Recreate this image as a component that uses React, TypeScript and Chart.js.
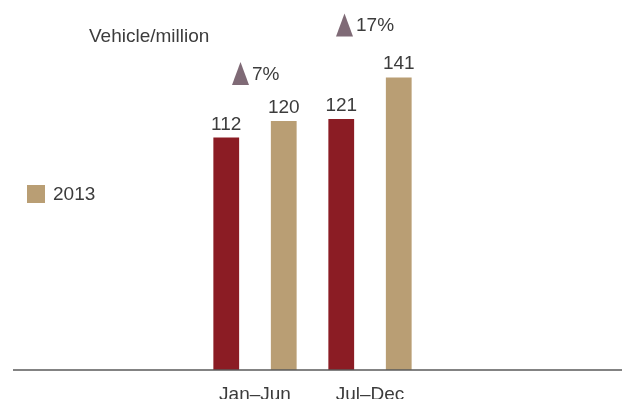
import React, { useEffect, useRef } from "react";
import { Chart, registerables } from "chart.js";

Chart.register(...registerables);

const categories = ["Jan–Jun", "Jul–Dec"];
const series2012 = [112, 121];
const series2013 = [120, 141];
const growthLabels = ["7%", "17%"];
const unitLabel = "Vehicle/million";
const legendLabel = "2013";

const FONT_FAMILY = '"Liberation Sans", Arial, sans-serif';
const FONT = '19px ' + FONT_FAMILY;
const TEXT_COLOR = "#3c3c3c";
const RED = "#8b1c24";
const TAN = "#b99e74";
const TRI = "#7f6a76";

const overlayPlugin = {
  id: "overlay",
  afterDatasetsDraw(chart: any) {
    const ctx = chart.ctx;
    const y = chart.scales.y;
    const x = chart.scales.x;
    const base = y.getPixelForValue(0);
    ctx.save();
    // baseline axis line
    ctx.strokeStyle = "#5a5a5a";
    ctx.lineWidth = 1.6;
    ctx.beginPath();
    ctx.moveTo(13, base);
    ctx.lineTo(chart.width, base);
    ctx.stroke();

    // value labels
    ctx.font = FONT;
    ctx.fillStyle = TEXT_COLOR;
    ctx.textAlign = "center";
    ctx.textBaseline = "alphabetic";
    chart.data.datasets.forEach((ds: any, di: number) => {
      const meta = chart.getDatasetMeta(di);
      meta.data.forEach((bar: any, i: number) => {
        ctx.fillText(String(ds.data[i]), bar.x, bar.y - 8);
      });
    });

    // growth triangles
    const xOff = [-14.5, -25.5];
    const yOff = [-36, -41];
    growthLabels.forEach((g, i) => {
      const cx = x.getPixelForValue(i) + xOff[i];
      const top = Math.min(
        y.getPixelForValue(series2012[i]),
        y.getPixelForValue(series2013[i])
      );
      const by = top + yOff[i];
      ctx.fillStyle = TRI;
      ctx.beginPath();
      ctx.moveTo(cx - 8.5, by);
      ctx.lineTo(cx + 8.5, by);
      ctx.lineTo(cx, by - 23);
      ctx.closePath();
      ctx.fill();
      ctx.fillStyle = TEXT_COLOR;
      ctx.textAlign = "left";
      ctx.fillText(g, cx + 11.5, by - 5);
    });

    // unit label
    ctx.textAlign = "left";
    ctx.fillText(unitLabel, 89, 42);

    // legend
    ctx.fillStyle = TAN;
    ctx.fillRect(27, 185, 18, 18);
    ctx.fillStyle = TEXT_COLOR;
    ctx.fillText(legendLabel, 53, 200);
    ctx.restore();
  },
};

export default function App() {
  const ref = useRef<HTMLCanvasElement>(null);
  useEffect(() => {
    if (!ref.current) return;
    const chart = new Chart(ref.current, {
      type: "bar",
      data: {
        labels: categories,
        datasets: [
          { label: "2012", data: series2012, backgroundColor: RED },
          { label: "2013", data: series2013, backgroundColor: TAN },
        ],
      },
      options: {
        animation: false,
        responsive: true,
        maintainAspectRatio: false,
        layout: { padding: { left: 197.5, right: 194.5, top: 38, bottom: 0 } },
        datasets: {
          bar: { barPercentage: 0.448, categoryPercentage: 1.0 },
        },
        plugins: {
          legend: { display: false },
          tooltip: { enabled: false },
        },
        scales: {
          x: {
            grid: { display: false },
            border: { display: false },
            ticks: {
              color: TEXT_COLOR,
              font: { family: FONT_FAMILY, size: 19 },
              padding: 5,
              maxRotation: 0,
              autoSkip: false,
            },
            afterFit: (s: any) => {
              s.height = 29;
            },
          },
          y: {
            display: false,
            min: 0,
            max: 160,
          },
        },
      },
      plugins: [overlayPlugin],
    });
    return () => chart.destroy();
  }, []);
  return (
    <div
      style={{
        position: "absolute",
        left: 0,
        top: 0,
        width: 622,
        height: 399,
        background: "#fff",
      }}
    >
      <canvas ref={ref} />
    </div>
  );
}
